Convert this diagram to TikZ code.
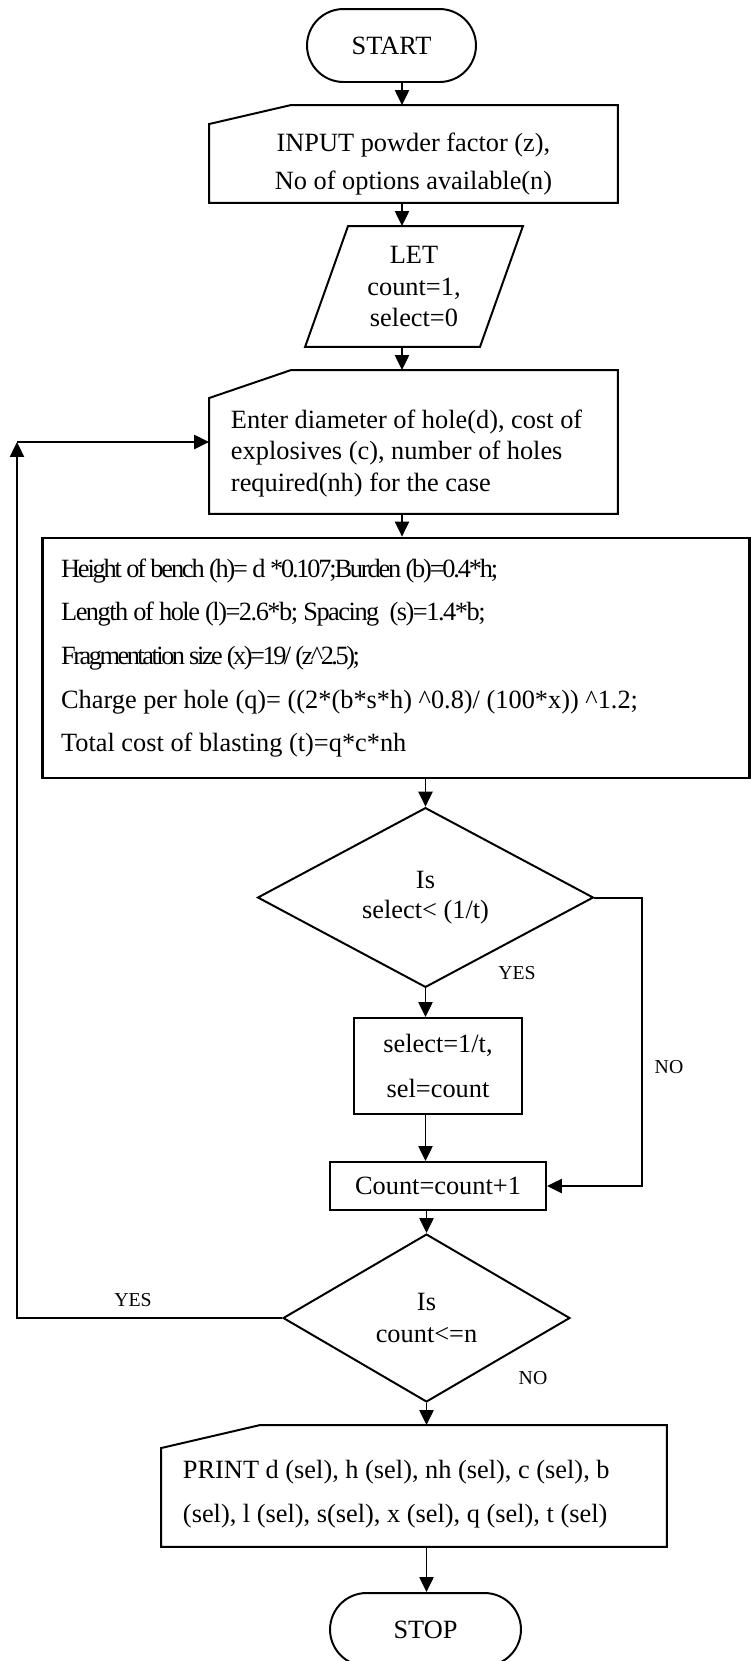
\documentclass[tikz,border=0pt]{standalone}
\usepackage{fontspec}
\setmainfont{Liberation Serif}
\usetikzlibrary{shapes.geometric,shapes.misc,arrows.meta,calc}
\newcommand{\tight}[2]{{\addfontfeatures{LetterSpace=#1}#2}}

\begin{document}
\begin{tikzpicture}[x=0.016cm, y=-0.016cm, line width=0.9pt,
  font=\fontsize{12pt}{14.3pt}\selectfont,
  arr/.style={-{Triangle[length=6.8pt,width=6.4pt]}},
  term/.style={rounded rectangle, draw, inner sep=0pt, minimum width=2.704cm, minimum height=1.168cm},
  plain/.style={inner sep=0pt},
  procbox/.style={rectangle, draw, inner sep=0pt, align=center},
  decision/.style={diamond, draw, inner sep=0pt, align=center},
  txt/.style={inner sep=0pt},
  tag/.style={inner sep=1pt, font=\fontsize{9pt}{10pt}\selectfont}]

  \useasboundingbox (0,0) rectangle (752,1661);
  \clip (0,0) rectangle (752,1661);

  % helper points for the bends
  \coordinate (ax) at (402,0);
  \coordinate (nox) at (642,0);
  \coordinate (back) at (17,442);

  \node[term] (start) at (391.5,45.5) {START};

  % input card
  \node[plain, minimum width=6.512cm, minimum height=1.536cm] (inp) at (413.5,154) {};
  \draw ($(inp.north west)+(0,19)$) -- ($(inp.north west)+(82,0)$) -- (inp.north east)
    -- (inp.south east) -- (inp.south west) -- cycle;
  \node[txt, align=center, font=\fontsize{12pt}{17.2pt}\selectfont] (inptxt) at (413.5,164)
    {INPUT powder factor (z),\\No of options available(n)};

  % LET
  \node[plain, minimum width=2.768cm, minimum height=1.904cm, align=center] (let) at (414,286.5)
    {LET\\count=1,\\select=0};
  \draw ($(let.north west)+(21.5,0)$) -- ($(let.north east)+(21.5,0)$)
    -- ($(let.south east)+(-21.5,0)$) -- ($(let.south west)+(-21.5,0)$) -- cycle;

  % data card
  \node[plain, minimum width=6.512cm, minimum height=2.272cm] (enter) at (413.5,442) {};
  \draw ($(enter.north west)+(0,28)$) -- ($(enter.north west)+(82,0)$) -- (enter.north east)
    -- (enter.south east) -- (enter.south west) -- cycle;
  \node[txt, anchor=west, align=left] (entertxt) at (230,453.5)
    {Enter diameter of hole(d), cost of\\explosives (c), number of holes\\required(nh) for the case};

  % formulas
  \node[procbox, line width=1.3pt, minimum width=11.328cm, minimum height=3.84cm, text width=10.72cm,
    align=flush left, font=\fontsize{12pt}{19.9pt}\selectfont] (formula) at (396,658)
    {\tight{-8.3}{Height of bench (h)= d *0.107;Burden (b)=0.4*h;}\\
     \tight{-5.6}{Length of hole (l)=2.6*b; Spacing\ \ (s)=1.4*b;}\\
     \tight{-9.4}{Fragmentation size (x)=19/ (z\textasciicircum 2.5);}\\
     Charge per hole (q)= ((2*(b*s*h) \textasciicircum 0.8)/ (100*x)) \textasciicircum 1.2;\\
     Total cost of blasting (t)=q*c*nh};

  \node[decision, minimum width=5.376cm, minimum height=2.288cm, font=\fontsize{12pt}{13.7pt}\selectfont]
    (ask1) at (425.5,897.5) {Is\\select< (1/t)};
  \node[procbox, minimum width=2.688cm, minimum height=1.536cm, font=\fontsize{12pt}{20.5pt}\selectfont]
    (upd) at (438,1066) {select=1/t,\\sel=count};
  \node[procbox, minimum width=3.456cm, minimum height=0.768cm] (cnt) at (438,1186) {Count=count+1};
  \node[decision, minimum width=4.592cm, minimum height=2.688cm, font=\fontsize{12pt}{14.6pt}\selectfont]
    (ask2) at (426.5,1318) {Is\\count<=n};

  % output card
  \node[plain, minimum width=8.064cm, minimum height=1.92cm] (out) at (414,1486) {};
  \draw ($(out.north west)+(0,23)$) -- ($(out.north west)+(99,0)$) -- (out.north east)
    -- (out.south east) -- (out.south west) -- cycle;
  \node[txt, anchor=west, align=left, font=\fontsize{12pt}{20pt}\selectfont] (outtxt) at (182,1494)
    {PRINT d (sel), h (sel), nh (sel), c (sel), b\\(sel), l (sel), s(sel), x (sel), q (sel), t (sel)};

  \node[term, minimum width=3.056cm] (stop) at (425.5,1629.5) {STOP};

  \node[tag] (yes1) at (517,973) {YES};
  \node[tag] (no1) at (669,1067) {NO};
  \node[tag] (yes2) at (133,1300) {YES};
  \node[tag] (no2) at (533,1378) {NO};

  \draw[arr] (start.south -| ax) -- (inp.north -| ax);
  \draw[arr] (inp.south -| ax) -- (let.north -| ax);
  \draw[arr] (let.south -| ax) -- (enter.north -| ax);
  \draw[arr] (enter.south -| ax) -- (formula.north -| ax);
  \draw[arr] (formula.south -| ask1.north) -- (ask1.north);
  \draw[arr] (ask1.south) -- (ask1.south |- upd.north);
  \draw[arr] (upd.south -| ask1.south) -- (cnt.north -| ask1.south);
  \draw[arr] (ask1.east) -- (ask1.east -| nox) |- (cnt.east);
  \draw[arr] (cnt.south -| ask2.north) -- (ask2.north);
  \draw[arr] (ask2.west) -| (back);
  \draw[arr] (back) -- (back -| enter.west);
  \draw[arr] (ask2.south) -- (ask2.south |- out.north);
  \draw[arr] (out.south -| ask2.south) -- (stop.north -| ask2.south);
\end{tikzpicture}
\end{document}
